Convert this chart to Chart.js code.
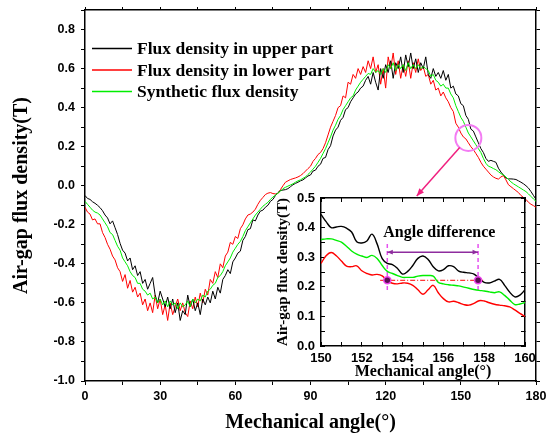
<!DOCTYPE html>
<html>
<head>
<meta charset="utf-8">
<script src="https://cdn.jsdelivr.net/npm/chart.js@4.4.1/dist/chart.umd.min.js"></script>
<style>
  html, body { margin: 0; padding: 0; background: #fff; }
  #wrap { position: relative; width: 548px; height: 434px; }
  #mainChart { position: absolute; left: 0; top: 0; }
  #insetChart { position: absolute; left: 260px; top: 186px; }
</style>
</head>
<body>
<div id="wrap">
  <canvas id="mainChart" width="548" height="434"></canvas>
  <canvas id="insetChart" width="277" height="204"></canvas>
</div>
<script>
// ── Data: main plot, one sample per degree ──
const angle = [
  0,1,2,3,4,5,6,7,8,9,10,11,12,13,14,15,16,17,18,19,20,21,22,23,24,25,26,27,28,29,
  30,31,32,33,34,35,36,37,38,39,40,41,42,43,44,45,46,47,48,49,50,51,52,53,54,55,56,57,58,59,
  60,61,62,63,64,65,66,67,68,69,70,71,72,73,74,75,76,77,78,79,80,81,82,83,84,85,86,87,88,89,
  90,91,92,93,94,95,96,97,98,99,100,101,102,103,104,105,106,107,108,109,110,111,112,113,114,115,116,117,118,119,
  120,121,122,123,124,125,126,127,128,129,130,131,132,133,134,135,136,137,138,139,140,141,142,143,144,145,146,147,148,149,
  150,151,152,153,154,155,156,157,158,159,160,161,162,163,164,165,166,167,168,169,170,171,172,173,174,175,176,177,178,179,180
];

const upperFlux = [
  -0.050,-0.065,-0.070,-0.082,-0.090,-0.100,-0.112,-0.128,-0.150,-0.165,
  -0.195,-0.180,-0.215,-0.250,-0.295,-0.330,-0.345,-0.385,-0.370,-0.430,
  -0.410,-0.460,-0.440,-0.500,-0.480,-0.530,-0.500,-0.470,-0.560,-0.600,
  -0.540,-0.580,-0.620,-0.570,-0.630,-0.580,-0.650,-0.600,-0.690,-0.640,
  -0.660,-0.560,-0.620,-0.580,-0.640,-0.600,-0.660,-0.580,-0.610,-0.570,
  -0.600,-0.540,-0.580,-0.520,-0.550,-0.480,-0.460,-0.430,-0.450,-0.390,
  -0.370,-0.345,-0.335,-0.280,-0.260,-0.225,-0.220,-0.175,-0.180,-0.150,
  -0.130,-0.125,-0.110,-0.100,-0.080,-0.070,-0.050,-0.035,-0.025,-0.022,
  -0.020,-0.015,-0.005,0.005,0.012,0.018,0.025,0.030,0.040,0.050,
  0.055,0.075,0.080,0.100,0.110,0.140,0.145,0.185,0.205,0.255,
  0.285,0.300,0.335,0.350,0.390,0.400,0.430,0.450,0.470,0.480,
  0.500,0.510,0.540,0.560,0.520,0.580,0.530,0.490,0.600,0.550,
  0.620,0.580,0.640,0.550,0.630,0.600,0.660,0.580,0.670,0.610,
  0.680,0.600,0.650,0.580,0.630,0.600,0.660,0.570,0.550,0.600,
  0.560,0.580,0.550,0.590,0.540,0.570,0.500,0.510,0.470,0.460,
  0.420,0.410,0.360,0.340,0.290,0.280,0.250,0.220,0.190,0.170,
  0.140,0.125,0.130,0.125,0.120,0.090,0.070,0.055,0.040,0.035,
  0.035,0.034,0.032,0.025,0.018,0.010,0.000,-0.012,-0.030,-0.050,-0.070
];

const lowerFlux = [
  -0.110,-0.135,-0.145,-0.175,-0.170,-0.195,-0.195,-0.240,-0.265,-0.300,
  -0.325,-0.360,-0.380,-0.420,-0.440,-0.490,-0.455,-0.525,-0.485,-0.545,
  -0.520,-0.570,-0.550,-0.610,-0.580,-0.640,-0.600,-0.650,-0.560,-0.630,
  -0.580,-0.660,-0.610,-0.690,-0.600,-0.660,-0.620,-0.580,-0.640,-0.600,
  -0.650,-0.670,-0.590,-0.630,-0.570,-0.620,-0.550,-0.600,-0.530,-0.560,
  -0.480,-0.500,-0.440,-0.470,-0.400,-0.420,-0.360,-0.340,-0.290,-0.300,
  -0.260,-0.270,-0.220,-0.200,-0.170,-0.150,-0.145,-0.135,-0.120,-0.095,
  -0.075,-0.060,-0.045,-0.038,-0.035,-0.040,-0.042,-0.040,-0.020,0.000,
  0.018,0.025,0.032,0.036,0.040,0.045,0.052,0.062,0.075,0.088,
  0.100,0.125,0.140,0.160,0.170,0.190,0.220,0.260,0.300,0.330,
  0.360,0.400,0.410,0.460,0.450,0.530,0.520,0.570,0.550,0.600,
  0.570,0.610,0.580,0.640,0.600,0.660,0.580,0.620,0.520,0.600,
  0.500,0.660,0.600,0.680,0.570,0.640,0.550,0.620,0.560,0.640,
  0.550,0.630,0.580,0.650,0.590,0.610,0.560,0.570,0.520,0.540,
  0.490,0.500,0.460,0.480,0.450,0.430,0.400,0.380,0.320,0.300,
  0.270,0.250,0.240,0.220,0.200,0.185,0.165,0.145,0.120,0.100,
  0.085,0.070,0.055,0.045,0.038,0.034,0.045,0.052,0.030,0.005,
  -0.005,-0.015,-0.025,-0.035,-0.050,-0.060,-0.070,-0.085,-0.095,-0.102,-0.110
];

const syntheticFlux = [
  -0.080,-0.095,-0.110,-0.125,-0.135,-0.140,-0.150,-0.170,-0.190,-0.210,
  -0.240,-0.250,-0.280,-0.310,-0.330,-0.370,-0.390,-0.410,-0.440,-0.460,
  -0.470,-0.500,-0.500,-0.530,-0.540,-0.560,-0.550,-0.580,-0.570,-0.600,
  -0.580,-0.610,-0.590,-0.620,-0.590,-0.610,-0.600,-0.630,-0.600,-0.620,
  -0.610,-0.590,-0.620,-0.580,-0.600,-0.580,-0.590,-0.560,-0.570,-0.540,
  -0.530,-0.510,-0.500,-0.470,-0.460,-0.440,-0.410,-0.390,-0.370,-0.340,
  -0.320,-0.300,-0.285,-0.260,-0.230,-0.210,-0.190,-0.170,-0.150,-0.135,
  -0.120,-0.105,-0.095,-0.085,-0.070,-0.058,-0.048,-0.038,-0.028,-0.015,
  -0.008,-0.002,0.004,0.010,0.018,0.025,0.030,0.038,0.045,0.058,
  0.070,0.085,0.100,0.120,0.140,0.165,0.190,0.220,0.250,0.285,
  0.310,0.340,0.360,0.390,0.410,0.430,0.450,0.460,0.490,0.510,
  0.530,0.545,0.560,0.575,0.570,0.600,0.580,0.590,0.570,0.600,
  0.580,0.620,0.600,0.630,0.590,0.620,0.600,0.620,0.590,0.630,
  0.600,0.620,0.600,0.620,0.600,0.610,0.600,0.590,0.560,0.570,
  0.540,0.530,0.510,0.520,0.500,0.500,0.470,0.450,0.410,0.380,
  0.350,0.330,0.300,0.270,0.250,0.230,0.210,0.190,0.170,0.140,
  0.115,0.100,0.095,0.088,0.082,0.072,0.062,0.055,0.045,0.032,
  0.020,0.010,0.002,-0.006,-0.014,-0.022,-0.030,-0.042,-0.055,-0.068,-0.080
];

// ── Data: inset (150°–160°) ──
const insetAngle = [
  150,150.25,150.5,150.75,151,151.25,151.5,151.75,152,152.25,152.5,152.75,153,153.25,
  153.5,153.75,154,154.25,154.5,154.75,155,155.25,155.5,155.75,156,156.25,156.5,156.75,
  157,157.25,157.5,157.75,158,158.25,158.5,158.75,159,159.25,159.5,159.75,160
];
const insetUpper = [
  0.445,0.420,0.400,0.402,0.404,0.398,0.385,0.352,0.348,0.355,0.378,0.345,0.295,0.279,
  0.275,0.262,0.243,0.252,0.272,0.296,0.304,0.292,0.268,0.254,0.258,0.271,0.268,0.253,
  0.249,0.247,0.243,0.228,0.215,0.213,0.219,0.225,0.205,0.182,0.166,0.172,0.190
];
const insetSynthetic = [
  0.360,0.362,0.362,0.357,0.351,0.337,0.321,0.310,0.304,0.299,0.306,0.296,0.272,0.252,
  0.245,0.238,0.232,0.232,0.232,0.236,0.238,0.238,0.236,0.215,0.210,0.207,0.205,0.203,
  0.199,0.195,0.191,0.188,0.186,0.183,0.180,0.183,0.171,0.155,0.140,0.142,0.147
];
const insetLower = [
  0.279,0.305,0.316,0.305,0.287,0.270,0.268,0.271,0.254,0.245,0.240,0.242,0.237,0.220,
  0.212,0.210,0.213,0.212,0.205,0.190,0.175,0.190,0.205,0.180,0.160,0.149,0.151,0.146,
  0.140,0.138,0.144,0.153,0.152,0.146,0.141,0.138,0.136,0.132,0.122,0.110,0.100
];
// equal-flux points used to read the angle difference
const markAngle = [153.25, 157.7];
const markFlux = [0.222, 0.222];

// ── Annotation anchors (data coordinates) ──
const zoomSpot = [153, 0.245];
const zoomArrowTip = [132.4, -0.052];
const diffLabelAt = [155.8, 0.383];
const diffArrowFlux = 0.317;
const guideTop = 0.345, guideBottom = 0.18;
const levelSpan = [152.9, 157.95];

const SERIF = "'Liberation Serif', 'Times New Roman', serif";
const SANS = "'Liberation Sans', Arial, sans-serif";
const COLORS = { upper: '#000000', lower: '#ff0000', synth: '#00ee00' };

const pts = (xs, ys) => xs.map((x, i) => ({ x, y: ys[i] }));
const fmt1 = v => (Math.abs(v) < 1e-9 ? '0.0' : v.toFixed(1));

// fixed axis box size, no extra label overhang padding
const fixBox = (w, h) => s => {
  if (w != null) s.width = w;
  if (h != null) s.height = h;
  s.paddingTop = s.paddingBottom = s.paddingLeft = s.paddingRight = 0;
};

function arrowHead(ctx, x1, y1, x2, y2, size) {
  const a = Math.atan2(y2 - y1, x2 - x1);
  ctx.beginPath();
  ctx.moveTo(x2, y2);
  ctx.lineTo(x2 - size * Math.cos(a - 0.4), y2 - size * Math.sin(a - 0.4));
  ctx.lineTo(x2 - size * Math.cos(a + 0.4), y2 - size * Math.sin(a + 0.4));
  ctx.closePath();
  ctx.fill();
}

// ── Main chart plugin: in-plot legend, circle and pointer arrow ──
const mainNotes = {
  id: 'mainNotes',
  afterDatasetsDraw(chart) {
    const { ctx, scales: { x, y } } = chart;
    ctx.save();
    const cx = x.getPixelForValue(zoomSpot[0]), cy = y.getPixelForValue(zoomSpot[1]);
    const r = 13;
    ctx.strokeStyle = '#f37cf3';
    ctx.lineWidth = 2;
    ctx.beginPath(); ctx.arc(cx, cy, r, 0, Math.PI * 2); ctx.stroke();

    const tx = x.getPixelForValue(zoomArrowTip[0]), ty = y.getPixelForValue(zoomArrowTip[1]);
    const d = Math.hypot(tx - cx, ty - cy);
    const sx = cx + (tx - cx) / d * r, sy = cy + (ty - cy) / d * r;
    ctx.strokeStyle = '#f0207f';
    ctx.fillStyle = '#f0207f';
    ctx.lineWidth = 1.5;
    ctx.beginPath(); ctx.moveTo(sx, sy); ctx.lineTo(tx, ty); ctx.stroke();
    arrowHead(ctx, sx, sy, tx, ty, 8);

    // legend
    const rows = [48.5, 70, 91.5];
    ctx.font = `bold 17.5px ${SERIF}`;
    ctx.textBaseline = 'middle';
    ctx.fillStyle = '#000';
    chart.data.datasets.forEach((ds, i) => {
      ctx.strokeStyle = ds.borderColor;
      ctx.lineWidth = 1.5;
      ctx.beginPath(); ctx.moveTo(92, rows[i]); ctx.lineTo(132, rows[i]); ctx.stroke();
      ctx.fillText(ds.label, 137, rows[i] + 1);
    });
    ctx.restore();
  }
};

new Chart(document.getElementById('mainChart'), {
  type: 'line',
  data: {
    datasets: [
      { label: 'Flux density in upper part', data: pts(angle, upperFlux), borderColor: COLORS.upper, order: 2 },
      { label: 'Flux density in lower part', data: pts(angle, lowerFlux), borderColor: COLORS.lower, order: 3 },
      { label: 'Synthetic flux density', data: pts(angle, syntheticFlux), borderColor: COLORS.synth, order: 1 },
    ].map(d => ({ ...d, borderWidth: 1, pointRadius: 0, tension: 0, fill: false }))
  },
  options: {
    responsive: false,
    animation: false,
    events: [],
    layout: { padding: { left: 0, right: 0, top: 2, bottom: 0 } },
    plugins: { legend: { display: false }, tooltip: { enabled: false } },
    scales: {
      x: {
        type: 'linear', position: 'bottom', min: 0, max: 180,
        ticks: { stepSize: 15, autoSkip: false, maxRotation: 0, padding: 4, color: '#000',
                 font: { family: SANS, size: 12.5, weight: 'bold' },
                 callback: v => (v % 30 === 0 ? v : '') },
        grid: { drawOnChartArea: false, color: '#000', tickLength: 4 },
        border: { color: '#000', width: 1.5 },
        title: { display: true, text: 'Mechanical angle(°)', color: '#000',
                 font: { family: SERIF, size: 20, weight: 'bold', lineHeight: 1 },
                 padding: { top: 0, bottom: 1 } },
        afterFit: fixBox(null, 53)
      },
      x2: {
        type: 'linear', position: 'top', min: 0, max: 180,
        ticks: { display: false, stepSize: 15 },
        grid: { drawOnChartArea: false, color: '#000', tickLength: 3 },
        border: { color: '#000', width: 1.5 },
        afterFit: fixBox(null, 8)
      },
      y: {
        type: 'linear', position: 'left', min: -1, max: 0.9,
        ticks: { stepSize: 0.1, autoSkip: false, padding: 6, color: '#000',
                 font: { family: SANS, size: 12.5, weight: 'bold' },
                 callback: v => (Math.round(v * 10) % 2 === 0 && v < 0.85 ? fmt1(v) : '') },
        grid: { drawOnChartArea: false, color: '#000', tickLength: 4 },
        border: { color: '#000', width: 1.5 },
        title: { display: true, text: 'Air-gap flux density(T)', color: '#000',
                 font: { family: SERIF, size: 20, weight: 'bold', lineHeight: 1 },
                 padding: { top: 12, bottom: 0 } },
        afterFit: fixBox(85, null)
      },
      y2: {
        type: 'linear', position: 'right', min: -1, max: 0.9,
        ticks: { display: false, stepSize: 0.1 },
        grid: { drawOnChartArea: false, color: '#000', tickLength: 4 },
        border: { color: '#000', width: 1.5 },
        afterFit: fixBox(12, null)
      }
    }
  },
  plugins: [mainNotes]
});

// ── Inset plugin: white plot area, guides, angle-difference arrow and label ──
const insetNotes = {
  id: 'insetNotes',
  beforeDraw(chart) {
    const { ctx, chartArea: a } = chart;
    ctx.save();
    ctx.fillStyle = '#fff';
    ctx.fillRect(a.left, a.top, a.right - a.left, a.bottom - a.top);
    ctx.restore();
  },
  beforeDatasetsDraw(chart) {
    const { ctx, scales: { x, y } } = chart;
    ctx.save();
    // vertical guides
    ctx.strokeStyle = '#e651f0';
    ctx.lineWidth = 1.5;
    ctx.setLineDash([4, 3]);
    markAngle.forEach(a => {
      const px = x.getPixelForValue(a);
      ctx.beginPath(); ctx.moveTo(px, y.getPixelForValue(guideTop)); ctx.lineTo(px, y.getPixelForValue(guideBottom)); ctx.stroke();
    });
    // equal flux level
    ctx.strokeStyle = '#ff0000';
    ctx.lineWidth = 1;
    ctx.setLineDash([5, 2, 1, 2]);
    const ly = y.getPixelForValue(markFlux[0]);
    ctx.beginPath(); ctx.moveTo(x.getPixelForValue(levelSpan[0]), ly); ctx.lineTo(x.getPixelForValue(levelSpan[1]), ly); ctx.stroke();
    ctx.setLineDash([]);
    // angle difference arrow
    const ay = y.getPixelForValue(diffArrowFlux);
    const ax1 = x.getPixelForValue(markAngle[0]), ax2 = x.getPixelForValue(markAngle[1]);
    ctx.strokeStyle = '#8e2c9e';
    ctx.fillStyle = '#8e2c9e';
    ctx.lineWidth = 1.5;
    ctx.beginPath(); ctx.moveTo(ax1, ay); ctx.lineTo(ax2, ay); ctx.stroke();
    arrowHead(ctx, ax2, ay, ax1, ay, 6);
    arrowHead(ctx, ax1, ay, ax2, ay, 6);
    // label
    ctx.fillStyle = '#000';
    ctx.font = `bold 16px ${SERIF}`;
    ctx.textAlign = 'center';
    ctx.textBaseline = 'middle';
    ctx.fillText('Angle difference', x.getPixelForValue(diffLabelAt[0]), y.getPixelForValue(diffLabelAt[1]));
    ctx.restore();
  }
};

new Chart(document.getElementById('insetChart'), {
  type: 'line',
  data: {
    datasets: [
      { label: 'upper', data: pts(insetAngle, insetUpper), borderColor: COLORS.upper },
      { label: 'lower', data: pts(insetAngle, insetLower), borderColor: COLORS.lower },
      { label: 'synthetic', data: pts(insetAngle, insetSynthetic), borderColor: COLORS.synth },
    ].map(d => ({ ...d, borderWidth: 1.4, pointRadius: 0, tension: 0.4, fill: false, order: 2 }))
     .concat([{
       type: 'scatter', label: 'equal flux', data: pts(markAngle, markFlux), order: 0,
       pointRadius: 3.5, backgroundColor: '#5a1052', borderColor: '#ee44ee', borderWidth: 1.5, showLine: false
     }])
  },
  options: {
    responsive: false,
    animation: false,
    events: [],
    layout: { padding: { left: 0, right: 0, top: 4, bottom: 0 } },
    plugins: { legend: { display: false }, tooltip: { enabled: false } },
    scales: {
      x: {
        type: 'linear', position: 'bottom', min: 150, max: 160,
        ticks: { stepSize: 1, autoSkip: false, maxRotation: 0, padding: 9, color: '#000',
                 font: { family: SANS, size: 13, weight: 'bold' },
                 callback: v => (Math.round(v) % 2 === 0 ? v : '') },
        grid: { drawOnChartArea: false, color: '#000', tickLength: -4 },
        border: { color: '#000', width: 1.5 },
        title: { display: true, text: 'Mechanical angle(°)', color: '#000',
                 font: { family: SERIF, size: 16, weight: 'bold', lineHeight: 1 },
                 padding: { top: 0, bottom: 10 } },
        afterFit: fixBox(null, 44)
      },
      x2: {
        type: 'linear', position: 'top', min: 150, max: 160,
        ticks: { display: false, stepSize: 1 },
        grid: { drawOnChartArea: false, color: '#000', tickLength: -4 },
        border: { color: '#000', width: 1.5 },
        afterFit: fixBox(null, 8)
      },
      y: {
        type: 'linear', position: 'left', min: 0, max: 0.5,
        ticks: { stepSize: 0.05, autoSkip: false, padding: 10, color: '#000',
                 font: { family: SANS, size: 13, weight: 'bold' },
                 callback: v => (Math.round(v * 100) % 10 === 0 ? fmt1(v) : '') },
        grid: { drawOnChartArea: false, color: '#000', tickLength: -4 },
        border: { color: '#000', width: 1.5 },
        title: { display: true, text: 'Air-gap flux density(T)', color: '#000',
                 font: { family: SERIF, size: 15, weight: 'bold', lineHeight: 1 },
                 padding: { top: 16, bottom: 0 } },
        afterFit: fixBox(61, null)
      },
      y2: {
        type: 'linear', position: 'right', min: 0, max: 0.5,
        ticks: { display: false, stepSize: 0.05 },
        grid: { drawOnChartArea: false, color: '#000', tickLength: -4 },
        border: { color: '#000', width: 1.5 },
        afterFit: fixBox(12, null)
      }
    }
  },
  plugins: [insetNotes]
});
</script>
</body>
</html>
